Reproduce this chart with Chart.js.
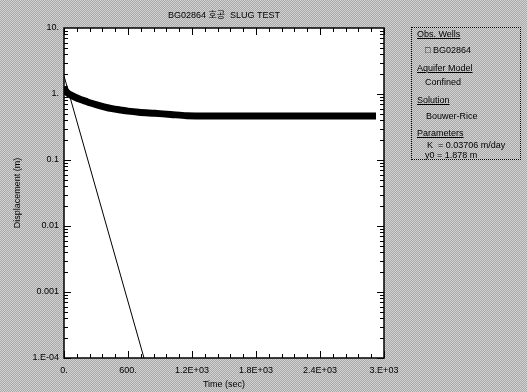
<!DOCTYPE html>
<html>
<head>
<meta charset="utf-8">
<script src="https://cdn.jsdelivr.net/npm/chart.js@4/dist/chart.umd.min.js"></script>
<style>
  body { margin: 0; }
  #wrap {
    position: relative; width: 527px; height: 392px; overflow: hidden;
    background: repeating-conic-gradient(#a9a9a9 0 25%, #d2d2d2 0 50%) 0 0 / 2px 2px;
    font-family: "Liberation Sans", Arial, "Noto Sans CJK KR", sans-serif; color: #000;
  }
  canvas { position: absolute; left: 0; top: 0; }
  #title { position: absolute; left: 0; width: 448px; top: 8px; text-align: center; font-size: 9px; }
  #panel {
    position: absolute; left: 411px; top: 27px; width: 110px; height: 133px;
    border: 1px dotted #000; box-sizing: border-box; font-size: 9px;
  }
  .p { position: absolute; white-space: nowrap; line-height: 10px; }
  .h { text-decoration: underline; }
</style>
</head>
<body>
<div id="wrap">
  <canvas id="slug" width="527" height="392"></canvas>
  <div id="title">BG02864 호공&nbsp; SLUG TEST</div>
  <div id="panel">
    <div class="p h" style="left:5px;top:1px">Obs. Wells</div>
    <div class="p" style="left:13px;top:17px">&#9633; BG02864</div>
    <div class="p h" style="left:5px;top:35px">Aquifer Model</div>
    <div class="p" style="left:13px;top:49px">Confined</div>
    <div class="p h" style="left:5px;top:67px">Solution</div>
    <div class="p" style="left:14px;top:83px">Bouwer-Rice</div>
    <div class="p h" style="left:5px;top:100px">Parameters</div>
    <div class="p" style="left:15px;top:112px">K&nbsp; = 0.03706 m/day</div>
    <div class="p" style="left:13px;top:122px">y0 = 1.878 m</div>
  </div>
</div>
<script>
////////////////// Data ///////////////////////
// observed displacement (BG02864)
const obsTime = [0, 10, 30, 60, 100, 150, 200, 250, 300, 375, 450, 535, 600, 700, 850, 1000, 1150, 1400, 1700, 2000, 2300, 2600, 2925];
const obsDisp = [1.3, 1.15, 1.05, 0.97, 0.9, 0.83, 0.78, 0.73, 0.69, 0.64, 0.6, 0.57, 0.55, 0.53, 0.51, 0.49, 0.47, 0.465, 0.465, 0.465, 0.465, 0.465, 0.465];
// Bouwer-Rice fitted line
const fitTime = [0, 750];
const fitDisp = [1.878, 0.0001];

const xTickVals = [0, 600, 1200, 1800, 2400, 3000];
const xTickLabels = ["0.", "600.", "1.2E+03", "1.8E+03", "2.4E+03", "3.E+03"];
const yTickVals = [0.0001, 0.001, 0.01, 0.1, 1, 10];
const yTickLabels = ["1.E-04", "0.001", "0.01", "0.1", "1.", "10."];

Chart.defaults.font.family = '"Liberation Sans", Arial, sans-serif';
Chart.defaults.font.size = 9;
Chart.defaults.color = "#000";

/// white plot area + inward ticks on all four sides
const frame = {
  id: "frame",
  beforeDatasetsDraw(chart) {
    const { ctx, chartArea: a } = chart;
    ctx.save();
    ctx.fillStyle = "#fff";
    ctx.fillRect(a.left, a.top, a.right - a.left, a.bottom - a.top);
    ctx.restore();
  },
  afterDatasetsDraw(chart) {
    const { ctx, chartArea: a, scales: { x, y } } = chart;
    ctx.save();
    ctx.strokeStyle = "#000";
    ctx.lineWidth = 1;
    ctx.beginPath();
    for (let t = 0; t <= 3000; t += 120) {
      const p = Math.round(x.getPixelForValue(t)) + 0.5;
      const len = xTickVals.includes(t) ? 7 : 4;
      ctx.moveTo(p, a.bottom); ctx.lineTo(p, a.bottom - len);
      ctx.moveTo(p, a.top); ctx.lineTo(p, a.top + len);
    }
    yTickVals.slice(0, -1).forEach((d) => {
      for (let m = 1; m <= 9; m++) {
        const p = Math.round(y.getPixelForValue(d * m)) + 0.5;
        const len = m === 1 ? 7 : 4;
        ctx.moveTo(a.left, p); ctx.lineTo(a.left + len, p);
        ctx.moveTo(a.right, p); ctx.lineTo(a.right - len, p);
      }
    });
    ctx.stroke();
    ctx.lineWidth = 1.5;
    ctx.strokeRect(a.left, a.top, a.right - a.left, a.bottom - a.top);
    ctx.restore();
  },
};

const ctx = document.getElementById("slug");
const slugChart = new Chart(ctx, {
  type: "line",
  data: {
    datasets: [
      {
        label: "BG02864",
        data: obsTime.map((t, i) => ({ x: t, y: obsDisp[i] })),
        borderColor: "#000",
        borderWidth: 7,
        pointRadius: 0,
        tension: 0.3,
      },
      {
        label: "Bouwer-Rice",
        data: fitTime.map((t, i) => ({ x: t, y: fitDisp[i] })),
        borderColor: "#000",
        borderWidth: 1,
        pointRadius: 0,
      },
    ],
  },
  options: {
    responsive: false,
    animation: false,
    layout: { padding: { left: 0, top: 28, right: 143, bottom: 0 } },
    plugins: { legend: { display: false }, tooltip: { enabled: false } },
    scales: {
      x: {
        type: "linear",
        min: 0,
        max: 3000,
        grid: { display: false, drawTicks: false },
        border: { display: false },
        afterBuildTicks: (s) => { s.ticks = xTickVals.map((v) => ({ value: v })); },
        afterFit: (s) => { s.height = 34; },
        ticks: { padding: 7, maxRotation: 0, autoSkip: false, callback: (v, i) => xTickLabels[i] },
        title: { display: true, text: "Time (sec)", padding: { top: 0, bottom: 2 } },
      },
      y: {
        type: "logarithmic",
        min: 0.0001,
        max: 10,
        grid: { display: false, drawTicks: false },
        border: { display: false },
        afterBuildTicks: (s) => { s.ticks = yTickVals.map((v) => ({ value: v })); },
        afterFit: (s) => { s.width = 64; },
        ticks: { padding: 5, autoSkip: false, callback: (v, i) => yTickLabels[i] },
        title: { display: true, text: "Displacement (m)", padding: { top: 12, bottom: 0 } },
      },
    },
  },
  plugins: [frame],
});
</script>
</body>
</html>
